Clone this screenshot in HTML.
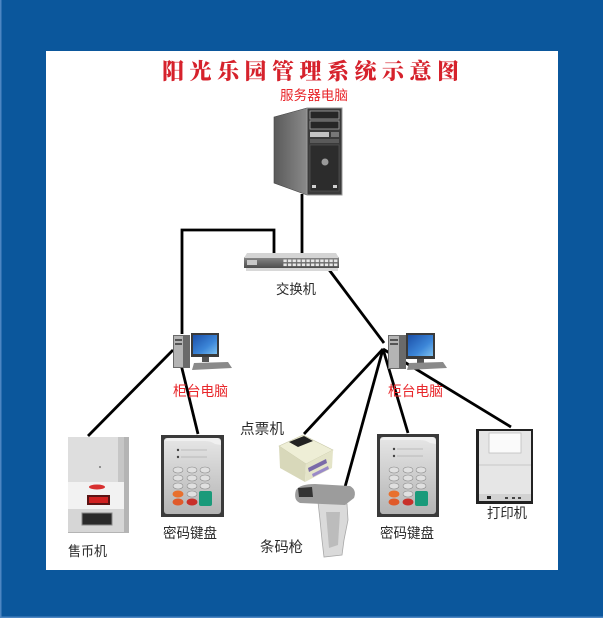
<!DOCTYPE html>
<html><head><meta charset="utf-8"><style>
html,body{margin:0;padding:0;background:#0b579c;}
svg{display:block;}
.lb{font-family:"Liberation Sans","Noto Sans CJK SC",sans-serif;fill:#2a2a2a;}
.rd{font-family:"Liberation Sans","Noto Sans CJK SC",sans-serif;fill:#e8262a;}
.tt{font-family:"Liberation Serif","Noto Serif CJK SC",serif;font-weight:900;fill:#d6222c;font-size:22px;}
</style></head><body>
<svg width="603" height="618" viewBox="0 0 603 618" xmlns="http://www.w3.org/2000/svg">
<defs>
<linearGradient id="side" x1="0" x2="1"><stop offset="0" stop-color="#5a5a5a"/><stop offset="1" stop-color="#8a8a8a"/></linearGradient>
<linearGradient id="scr" x1="0" y1="0" x2="1" y2="1"><stop offset="0" stop-color="#1b4fa8"/><stop offset="0.6" stop-color="#3c86d8"/><stop offset="1" stop-color="#7cc0f0"/></linearGradient>
<linearGradient id="sil" x1="0" y1="0" x2="0" y2="1"><stop offset="0" stop-color="#e6e6e6"/><stop offset="1" stop-color="#b4b4b4"/></linearGradient>
<linearGradient id="sw" x1="0" y1="0" x2="0" y2="1"><stop offset="0" stop-color="#8a8a8a"/><stop offset="1" stop-color="#4e4e4e"/></linearGradient>
<pattern id="ports" x="283" y="259" width="4.6" height="4" patternUnits="userSpaceOnUse"><rect x="0.4" y="0.5" width="3.4" height="2.6" fill="#e8e8e8"/></pattern>
</defs>
<rect x="0" y="0" width="603" height="618" fill="#0b579c"/>
<rect x="0" y="0" width="1.5" height="618" fill="#4d86c2"/>
<rect x="0" y="616.5" width="603" height="1.5" fill="#4d86c2"/>
<rect x="46" y="51" width="512" height="519" fill="#ffffff"/>

<!-- Title -->
<text class="tt" x="162" y="79">阳</text>
<text class="tt" x="189.5" y="79">光</text>
<text class="tt" x="217" y="79">乐</text>
<text class="tt" x="244.5" y="79">园</text>
<text class="tt" x="272" y="79">管</text>
<text class="tt" x="299.5" y="79">理</text>
<text class="tt" x="327" y="79">系</text>
<text class="tt" x="354.5" y="79">统</text>
<text class="tt" x="382" y="79">示</text>
<text class="tt" x="409.5" y="79">意</text>
<text class="tt" x="437" y="79">图</text>

<text class="rd" x="280" y="100" font-size="13.5" textLength="68" lengthAdjust="spacingAndGlyphs">服务器电脑</text>

<!-- connectors -->
<g stroke="#000" stroke-width="2.8" fill="none" stroke-linecap="butt">
<line x1="302" y1="194" x2="302" y2="260"/>
<polyline points="274,255 274,230 182,230 182,334"/>
<line x1="327" y1="267" x2="384" y2="343"/>
<line x1="173" y1="350" x2="88" y2="436"/>
<line x1="177" y1="348" x2="198" y2="434"/>
<line x1="383" y1="349" x2="304" y2="434"/>
<line x1="383" y1="349" x2="345" y2="487"/>
<line x1="383" y1="349" x2="408" y2="433"/>
<line x1="383" y1="349" x2="511" y2="427"/>
</g>

<!-- Server -->
<polygon points="274,117 307,108 307,195 274,183" fill="url(#side)" stroke="#444" stroke-width="0.6"/>
<rect x="307" y="108" width="35" height="87" fill="#3a3a3a" stroke="#9a9a9a" stroke-width="1"/>
<rect x="310" y="111" width="29" height="8" fill="#262626" stroke="#a8a8a8" stroke-width="0.8"/>
<rect x="310" y="121" width="29" height="8" fill="#262626" stroke="#a8a8a8" stroke-width="0.8"/>
<rect x="310" y="132" width="19" height="5" fill="#c4c4c4"/>
<rect x="331" y="132" width="8" height="5" fill="#777"/>
<rect x="310" y="139" width="29" height="4" fill="#5a5a5a"/>
<rect x="310" y="145" width="29" height="46" fill="#2c2c2c" stroke="#5a5a5a" stroke-width="0.6"/>
<circle cx="325" cy="162" r="3.5" fill="#9a9a9a"/>
<rect x="312" y="185" width="4" height="3" fill="#cfcfcf"/>
<rect x="333" y="185" width="4" height="3" fill="#cfcfcf"/>

<!-- Switch -->
<rect x="244" y="257" width="95" height="11" fill="url(#sw)"/>
<polygon points="247,253 336,253 339,258 244,258" fill="#d4d4d4"/>
<rect x="247" y="260" width="10" height="5" fill="#c8c8c8"/>
<rect x="283" y="259" width="55" height="8" fill="url(#ports)"/>
<rect x="246" y="268" width="92" height="3" fill="#d8d8d8"/>
<text class="lb" x="276" y="294" font-size="13.5" textLength="40" lengthAdjust="spacingAndGlyphs">交换机</text>

<!-- Left PC -->
<rect x="173" y="335" width="17" height="33" fill="#6a6a6a"/>
<rect x="174" y="336" width="9" height="31" fill="#b4b4b4"/>
<rect x="175" y="339" width="7" height="2" fill="#555"/>
<rect x="175" y="343" width="7" height="2" fill="#555"/>
<rect x="191" y="333" width="28" height="24" fill="#3a3a3a"/>
<rect x="193" y="335" width="24" height="19" fill="url(#scr)"/>
<rect x="202" y="357" width="7" height="5" fill="#555"/>
<polygon points="194,363 228,362 232,368 192,370" fill="#8a8a8a"/>
<text class="rd" x="173" y="396" font-size="14" textLength="55" lengthAdjust="spacingAndGlyphs">柜台电脑</text>

<!-- Right PC -->
<rect x="388" y="335" width="18" height="34" fill="#6a6a6a"/>
<rect x="389" y="336" width="10" height="32" fill="#b4b4b4"/>
<rect x="390" y="339" width="8" height="2" fill="#555"/>
<rect x="390" y="343" width="8" height="2" fill="#555"/>
<rect x="406" y="333" width="29" height="26" fill="#3a3a3a"/>
<rect x="408" y="335" width="25" height="21" fill="url(#scr)"/>
<rect x="417" y="359" width="7" height="4" fill="#555"/>
<polygon points="409,363 443,362 447,368 407,370" fill="#8a8a8a"/>
<text class="rd" x="388" y="396" font-size="14" textLength="55" lengthAdjust="spacingAndGlyphs">柜台电脑</text>

<!-- Ticket machine -->
<rect x="68" y="437" width="61" height="96" fill="#b4b4b4"/>
<rect x="68" y="437" width="50" height="46" fill="#dedede"/>
<polygon points="118,437 124,437 124,483 118,483" fill="#c6c6c6"/>
<rect x="68" y="482" width="56" height="27" fill="#f2f2f2"/>
<ellipse cx="97" cy="487" rx="8" ry="2.5" fill="#d83030"/>
<rect x="87" y="495" width="23" height="10" fill="#5a1414"/>
<rect x="89" y="497" width="19" height="6" fill="#d02020"/>
<rect x="68" y="509" width="56" height="23" fill="#d6d6d6"/>
<rect x="82" y="513" width="30" height="12" fill="#2a2a2a" stroke="#888" stroke-width="1"/>
<circle cx="100" cy="467" r="1" fill="#777"/>
<text class="lb" x="68" y="556" font-size="13.5" textLength="39" lengthAdjust="spacingAndGlyphs">售币机</text>

<!-- Keypad left -->
<g transform="translate(161,435)">
<rect x="0" y="0" width="63" height="82" fill="#3a3a3a"/>
<rect x="3" y="3" width="57" height="76" rx="3" fill="url(#sil)"/>
<path d="M3,6 Q6,3 12,3 L56,3 Q60,4 60,10 L54,9 Q50,6 44,6 L12,6 Z" fill="#f0f0f0"/>
<circle cx="17" cy="15" r="1.2" fill="#444"/><line x1="20" y1="15" x2="46" y2="15" stroke="#999" stroke-width="0.6"/>
<circle cx="17" cy="22" r="1.2" fill="#444"/><line x1="20" y1="22" x2="46" y2="22" stroke="#999" stroke-width="0.6"/>
<g fill="#e0e0e0" stroke="#8a8a8a" stroke-width="0.6">
<ellipse cx="17" cy="35" rx="5" ry="3"/><ellipse cx="31" cy="35" rx="5" ry="3"/><ellipse cx="44" cy="35" rx="5" ry="3"/>
<ellipse cx="17" cy="43" rx="5" ry="3"/><ellipse cx="31" cy="43" rx="5" ry="3"/><ellipse cx="44" cy="43" rx="5" ry="3"/>
<ellipse cx="17" cy="51" rx="5" ry="3"/><ellipse cx="31" cy="51" rx="5" ry="3"/><ellipse cx="44" cy="51" rx="5" ry="3"/>
<ellipse cx="31" cy="59" rx="5" ry="3"/>
</g>
<ellipse cx="17" cy="59" rx="5.5" ry="3.5" fill="#e8702e"/>
<ellipse cx="17" cy="67" rx="5.5" ry="3.5" fill="#e05a2a"/>
<ellipse cx="31" cy="67" rx="5.5" ry="3.5" fill="#c8302a"/>
<rect x="38" y="56" width="13" height="15" rx="2" fill="#1a9a7a"/>
</g>
<text class="lb" x="163" y="538" font-size="14" textLength="54" lengthAdjust="spacingAndGlyphs">密码键盘</text>

<!-- Keypad right -->
<g transform="translate(377,434)">
<rect x="0" y="0" width="62" height="83" fill="#3a3a3a"/>
<rect x="3" y="3" width="56" height="77" rx="3" fill="url(#sil)"/>
<path d="M3,6 Q6,3 12,3 L55,3 Q59,4 59,10 L53,9 Q49,6 43,6 L12,6 Z" fill="#f0f0f0"/>
<circle cx="17" cy="15" r="1.2" fill="#444"/><line x1="20" y1="15" x2="46" y2="15" stroke="#999" stroke-width="0.6"/>
<circle cx="17" cy="22" r="1.2" fill="#444"/><line x1="20" y1="22" x2="46" y2="22" stroke="#999" stroke-width="0.6"/>
<g fill="#e0e0e0" stroke="#8a8a8a" stroke-width="0.6">
<ellipse cx="17" cy="36" rx="5" ry="3"/><ellipse cx="31" cy="36" rx="5" ry="3"/><ellipse cx="44" cy="36" rx="5" ry="3"/>
<ellipse cx="17" cy="44" rx="5" ry="3"/><ellipse cx="31" cy="44" rx="5" ry="3"/><ellipse cx="44" cy="44" rx="5" ry="3"/>
<ellipse cx="17" cy="52" rx="5" ry="3"/><ellipse cx="31" cy="52" rx="5" ry="3"/><ellipse cx="44" cy="52" rx="5" ry="3"/>
<ellipse cx="31" cy="60" rx="5" ry="3"/>
</g>
<ellipse cx="17" cy="60" rx="5.5" ry="3.5" fill="#e8702e"/>
<ellipse cx="17" cy="68" rx="5.5" ry="3.5" fill="#e05a2a"/>
<ellipse cx="31" cy="68" rx="5.5" ry="3.5" fill="#c8302a"/>
<rect x="38" y="57" width="13" height="15" rx="2" fill="#1a9a7a"/>
</g>
<text class="lb" x="380" y="538" font-size="14" textLength="54" lengthAdjust="spacingAndGlyphs">密码键盘</text>

<!-- Bill counter -->
<text class="lb" x="240" y="434" font-size="14.5" textLength="44" lengthAdjust="spacingAndGlyphs">点票机</text>
<polygon points="279,446 303,435 333,450 306,464" fill="#eeeed6" stroke="#c8c8a8" stroke-width="0.6"/>
<polygon points="279,446 306,464 305,482 280,468" fill="#d8d8ba"/>
<polygon points="306,464 333,450 332,468 305,482" fill="#e4e4c8"/>
<polygon points="289,442 304,436 313,441 298,447" fill="#222"/>
<polygon points="308,468 326,459 327,463 309,472" fill="#7a6aa8"/>
<polygon points="312,474 328,466 329,469 313,477" fill="#9a8ac8"/>

<!-- Barcode gun -->
<path d="M318,502 L347,504 L348,520 L344,540 L342,555 L324,557 L322,540 L320,520 Z" fill="#dadada" stroke="#a8a8a8" stroke-width="0.8"/>
<path d="M326,512 L340,512 L338,545 L329,548 Z" fill="#bcbcbc"/>
<path d="M296,490 Q300,484 315,484 L350,486 Q357,490 354,498 L345,505 L300,503 Q293,500 296,490 Z" fill="#9c9c9c"/>
<path d="M298,488 L312,487 L313,497 L299,497 Z" fill="#333"/>
<text class="lb" x="260" y="552" font-size="14.5" textLength="43" lengthAdjust="spacingAndGlyphs">条码枪</text>

<!-- Printer -->
<rect x="476" y="429" width="57" height="75" fill="#222"/>
<rect x="479" y="431" width="52" height="70" fill="#e6e6e6"/>
<rect x="489" y="433" width="32" height="20" fill="#fafafa" stroke="#c0c0c0" stroke-width="0.8"/>
<line x1="479" y1="465" x2="531" y2="465" stroke="#c8c8c8" stroke-width="1"/>
<rect x="479" y="494" width="52" height="7" fill="#d2d2d2"/>
<rect x="487" y="496" width="4" height="3" fill="#222"/>
<rect x="505" y="497" width="3" height="2" fill="#444"/>
<rect x="512" y="497" width="3" height="2" fill="#444"/>
<rect x="518" y="497" width="3" height="2" fill="#444"/>
<text class="lb" x="487" y="518" font-size="14" textLength="40" lengthAdjust="spacingAndGlyphs">打印机</text>
</svg>
</body></html>
